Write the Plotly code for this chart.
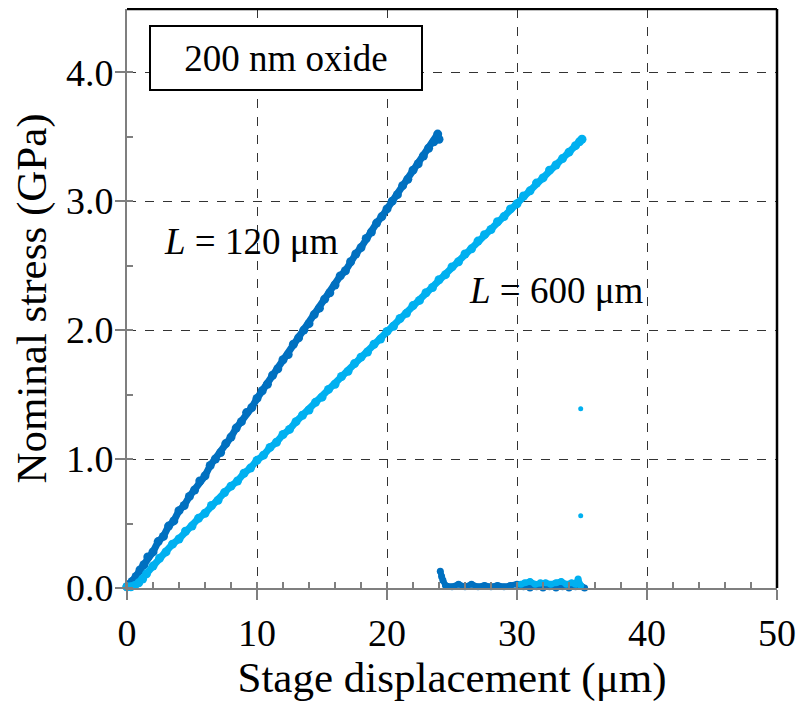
import plotly.graph_objects as go

# L = 120 um (dark blue) loading curve and post-failure points
dark_x = [0.0, 0.2, 0.4, 0.7, 1.0, 1.3, 1.6, 2.0, 2.4, 2.8, 3.2, 3.6, 4.0, 4.4, 4.8, 5.2,
          5.6, 6.0, 6.4, 6.8, 7.2, 7.6, 8.0, 8.4, 8.8, 9.2, 9.6, 10.0, 10.4, 10.8, 11.2,
          11.6, 12.0, 12.4, 12.8, 13.2, 13.6, 14.0, 14.4, 14.8, 15.2, 15.6, 16.0, 16.4,
          16.8, 17.2, 17.6, 18.0, 18.4, 18.8, 19.2, 19.6, 20.0, 20.4, 20.8, 21.2, 21.6,
          22.0, 22.4, 22.8, 23.2, 23.6, 23.9, 24.0]
dark_y = [0.01, 0.03, 0.05, 0.09, 0.14, 0.18, 0.24, 0.28, 0.36, 0.40, 0.48, 0.52, 0.60,
          0.64, 0.71, 0.76, 0.83, 0.87, 0.95, 1.00, 1.05, 1.12, 1.17, 1.24, 1.29, 1.36,
          1.40, 1.47, 1.53, 1.58, 1.65, 1.70, 1.77, 1.81, 1.89, 1.94, 2.00, 2.05, 2.12,
          2.17, 2.24, 2.29, 2.35, 2.42, 2.46, 2.53, 2.59, 2.64, 2.71, 2.76, 2.83, 2.88,
          2.94, 3.00, 3.05, 3.12, 3.17, 3.24, 3.29, 3.35, 3.41, 3.46, 3.52, 3.48]
dark_after_x = [24.1, 24.2, 24.3, 24.5, 25.0, 25.5, 26.0, 26.5, 27.0, 27.5, 28.0, 28.5,
                29.0, 29.5, 30.0, 30.5, 31.0, 31.5, 32.0, 32.5, 33.0, 33.5, 34.0, 34.5,
                35.0, 35.2]
dark_after_y = [0.13, 0.09, 0.06, 0.02, 0.01, 0.03, 0.01, 0.03, 0.01, 0.02, 0.01, 0.02,
                0.01, 0.02, 0.03, 0.01, 0.00, 0.01, 0.00, 0.01, 0.00, 0.01, 0.00, 0.01,
                0.01, 0.00]

# L = 600 um (light blue)
light_x = [0.0, 0.3, 0.6, 0.9, 1.2, 1.5, 2.0, 2.5, 3.0, 3.5, 4.0, 4.5, 5.0, 5.5, 6.0, 6.5,
           7.0, 7.5, 8.0, 8.5, 9.0, 9.5, 10.0, 10.5, 11.0, 11.5, 12.0, 12.5, 13.0, 13.5,
           14.0, 14.5, 15.0, 15.5, 16.0, 16.5, 17.0, 17.5, 18.0, 18.5, 19.0, 19.5, 20.0,
           20.5, 21.0, 21.5, 22.0, 22.5, 23.0, 23.5, 24.0, 24.5, 25.0, 25.5, 26.0, 26.5,
           27.0, 27.5, 28.0, 28.5, 29.0, 29.5, 30.0, 30.5, 31.0, 31.5, 32.0, 32.5, 33.0,
           33.5, 34.0, 34.5, 34.8, 35.0]
light_y = [0.01, 0.01, 0.02, 0.04, 0.07, 0.11, 0.17, 0.23, 0.28, 0.34, 0.38, 0.44, 0.48,
           0.54, 0.58, 0.64, 0.68, 0.74, 0.79, 0.83, 0.89, 0.93, 0.99, 1.03, 1.09, 1.13,
           1.19, 1.23, 1.29, 1.34, 1.38, 1.44, 1.48, 1.54, 1.58, 1.64, 1.68, 1.74, 1.79,
           1.83, 1.89, 1.93, 1.99, 2.03, 2.09, 2.13, 2.19, 2.23, 2.29, 2.33, 2.39, 2.43,
           2.49, 2.53, 2.59, 2.63, 2.69, 2.74, 2.78, 2.84, 2.88, 2.94, 2.98, 3.04, 3.08,
           3.14, 3.18, 3.24, 3.28, 3.33, 3.38, 3.43, 3.46, 3.48]
light_after_x = [30.3, 30.6, 31.0, 31.4, 31.8, 32.2, 32.6, 33.0, 33.4, 33.8, 34.2, 34.5,
                 34.7, 34.9]
light_after_y = [0.03, 0.04, 0.05, 0.03, 0.04, 0.04, 0.03, 0.04, 0.05, 0.03, 0.04, 0.03,
                 0.07, 0.02]
light_drop_x = [34.9, 34.9]
light_drop_y = [1.39, 0.56]

x_ticks = [0, 10, 20, 30, 40, 50]
y_ticks = [0.0, 1.0, 2.0, 3.0, 4.0]

DARK = "#0070C0"
LIGHT = "#00B0F0"
FONT = "Liberation Serif, Times New Roman, serif"


def band(x, y, color, lw=7, ms=9):
    return go.Scatter(x=x, y=y, mode="lines+markers",
                      line=dict(color=color, width=lw),
                      marker=dict(color=color, size=ms), showlegend=False,
                      cliponaxis=False)


fig = go.Figure()
fig.add_trace(band(dark_x, dark_y, DARK))
fig.add_trace(band(dark_after_x, dark_after_y, DARK, lw=6, ms=7))
fig.add_trace(band(light_x, light_y, LIGHT))
fig.add_trace(band(light_after_x, light_after_y, LIGHT, lw=6, ms=7))
fig.add_trace(go.Scatter(x=light_drop_x, y=light_drop_y, mode="markers",
                         marker=dict(color=LIGHT, size=5), showlegend=False))

axis_common = dict(
    showline=True, linecolor="#7f7f7f", linewidth=2,
    ticks="outside", ticklen=10, tickwidth=2, tickcolor="#7f7f7f",
    showgrid=True, gridcolor="#333333", gridwidth=1, griddash="dash",
    zeroline=False,
    tickfont=dict(family=FONT, size=38, color="black"),
)

fig.update_xaxes(
    range=[0, 50], tickvals=x_ticks, ticktext=[str(v) for v in x_ticks],
    minor=dict(dtick=2, ticks="inside", ticklen=6, tickwidth=1.5, tickcolor="#7f7f7f", showgrid=False),
    title=dict(text="Stage displacement (μm)", font=dict(family=FONT, size=43, color="black"), standoff=8),
    **axis_common)
fig.update_yaxes(
    range=[0, 4.49], tickvals=y_ticks, ticktext=[f"{v:.1f}" for v in y_ticks],
    minor=dict(dtick=0.5, ticks="inside", ticklen=6, tickwidth=1.5, tickcolor="#7f7f7f", showgrid=False),
    ticklabelstandoff=-6,
    title=dict(text="Nominal stress (GPa)", font=dict(family=FONT, size=43, color="black"), standoff=7),
    **axis_common)

fig.update_layout(
    width=800, height=698,
    margin=dict(l=119, r=31, t=1, b=118),
    plot_bgcolor="white", paper_bgcolor="white",
    shapes=[
        dict(type="line", xref="paper", yref="paper", x0=0, x1=1, y0=1, y1=1,
             line=dict(color="black", width=2.5)),
        dict(type="line", xref="paper", yref="paper", x0=1, x1=1, y0=0, y1=1,
             line=dict(color="black", width=2.5)),
    ],
    annotations=[
        dict(x=12.23, y=4.108, xref="x", yref="y", text="200 nm oxide", showarrow=False,
             font=dict(family=FONT, size=37, color="black"),
             bordercolor="black", borderwidth=2, bgcolor="white",
             width=268, height=60, align="center", valign="middle"),
        dict(x=9.55, y=2.69, xref="x", yref="y", text="<i>L</i> = 120 μm", showarrow=False,
             font=dict(family=FONT, size=37, color="black")),
        dict(x=33.04, y=2.31, xref="x", yref="y", text="<i>L</i> = 600 μm", showarrow=False,
             font=dict(family=FONT, size=37, color="black")),
    ],
)

fig.write_html("out.html")
